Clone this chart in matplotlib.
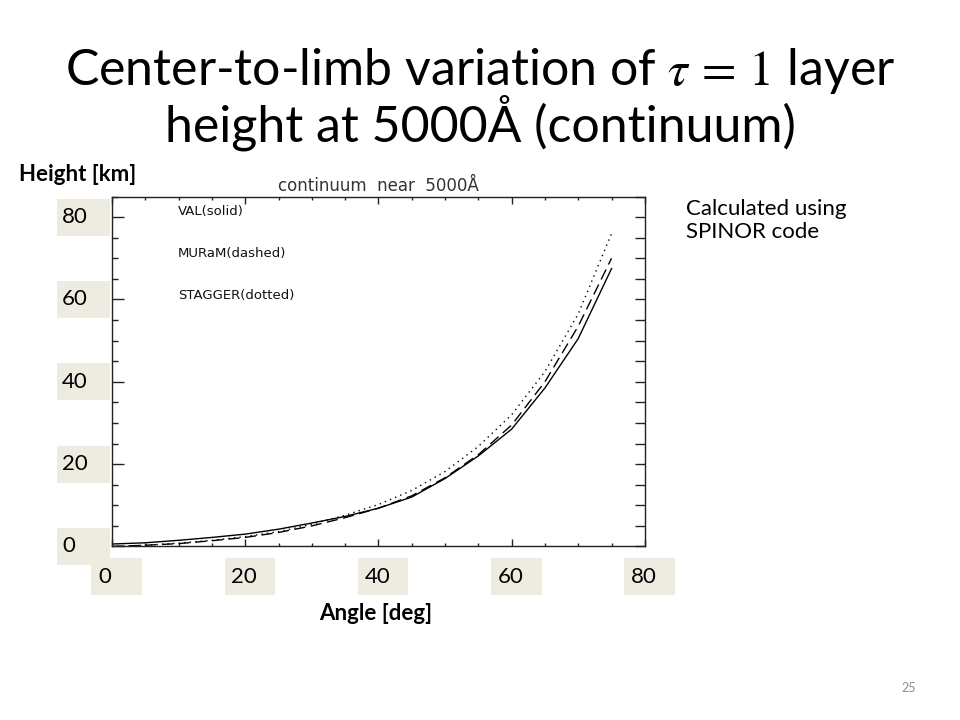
import matplotlib
matplotlib.use("Agg")
import matplotlib.pyplot as plt
import matplotlib.transforms as mtransforms
from matplotlib.patches import Rectangle
from matplotlib.ticker import MultipleLocator

# tau=1 layer height [km] vs viewing angle [deg]
angle = [0, 5, 10, 15, 20, 25, 30, 35, 40, 45, 50, 55, 60, 65, 70, 75]
val_height = [0.6, 0.9, 1.5, 2.2, 3.0, 4.2, 5.7, 7.3, 9.3, 12.0, 16.5, 22.0, 28.5, 38.5, 50.5, 67.5]
muram_height = [0.0, 0.3, 0.7, 1.4, 2.2, 3.4, 5.0, 7.0, 9.3, 12.3, 16.7, 22.3, 29.5, 40.0, 53.5, 70.0]
stagger_height = [0.0, 0.3, 0.8, 1.5, 2.4, 3.6, 5.4, 7.6, 10.2, 13.6, 18.2, 24.3, 32.0, 42.5, 56.5, 76.0]

x_labels = [0, 20, 40, 60, 80]
y_labels = [0, 20, 40, 60, 80]
model_names = ["VAL(solid)", "MURaM(dashed)", "STAGGER(dotted)"]

plt.rcParams['mathtext.fontset'] = 'stix'
slide_font = ['Lato', 'DejaVu Sans']
box_color = '#EEECE1'
frame_color = '#222222'

fig = plt.figure(figsize=(9.6, 7.2), dpi=100)
ax = fig.add_axes([0.1167, 0.241, 0.555, 0.486])

# the three model curves (IDL style, thin black)
ax.plot(angle, val_height, color='black', lw=1.0, ls='-')
ax.plot(angle, muram_height, color='black', lw=1.0, ls=(0, (8, 4)))
ax.plot(angle, stagger_height, color='black', lw=1.0, ls=(0, (1, 3)))

ax.set_xlim(0, 80)
ax.set_ylim(0, 85)
ax.xaxis.set_major_locator(MultipleLocator(20))
ax.xaxis.set_minor_locator(MultipleLocator(5))
ax.yaxis.set_major_locator(MultipleLocator(20))
ax.yaxis.set_minor_locator(MultipleLocator(5))
ax.tick_params(which='both', direction='in', top=True, right=False,
               labelbottom=False, labelleft=False, color=frame_color, width=1.0)
ax.tick_params(axis='x', which='major', length=5)
ax.tick_params(axis='x', which='minor', length=2.3)
ax.tick_params(axis='y', which='major', length=8.5)
ax.tick_params(axis='y', which='minor', length=4.3)
for sp in ax.spines.values():
    sp.set_linewidth(1.0)
    sp.set_color(frame_color)

# right-hand ticks are all the same length in the original
ax_r = ax.twinx()
ax_r.set_ylim(ax.get_ylim())
ax_r.yaxis.set_major_locator(MultipleLocator(20))
ax_r.yaxis.set_minor_locator(MultipleLocator(5))
ax_r.tick_params(which='both', direction='in', length=7.5, width=1.0,
                 color=frame_color, labelright=False)
for sp in ax_r.spines.values():
    sp.set_visible(False)

ax.set_title("continuum  near  5000Å", fontsize=12, color='#333333', pad=4)

# labels inside the plot
for i, name in enumerate(model_names):
    ax.text(0.124, 0.956 - 0.12 * i, name, transform=ax.transAxes,
            va='center', ha='left', fontsize=9.5, color='#111111')

# beige boxes pasted over the original tick labels
trans_y = mtransforms.blended_transform_factory(ax.transAxes, ax.transData)
for v in y_labels:
    ax.add_patch(Rectangle((-0.103, v - 4.5), 0.099, 9, transform=trans_y,
                           facecolor=box_color, edgecolor='none', clip_on=False))
    ax.text(-0.094, v, str(v), transform=trans_y, ha='left', va='center',
            fontsize=16, family=slide_font, clip_on=False)

trans_x = mtransforms.blended_transform_factory(ax.transData, ax.transAxes)
for v in x_labels:
    ax.add_patch(Rectangle((v - 3.1, -0.139), 7.6, 0.106, transform=trans_x,
                           facecolor=box_color, edgecolor='none', clip_on=False))
    ax.text(v - 2.1, -0.088, str(v), transform=trans_x, ha='left', va='center',
            fontsize=16, family=slide_font, clip_on=False)

# slide text
fig.text(0.5, 0.902, r"Center-to-limb variation of $\tau\,=\,1$ layer",
         ha='center', va='center', fontsize=36, family=slide_font)
fig.text(0.5, 0.829, "height at 5000Å (continuum)",
         ha='center', va='center', fontsize=36, family=slide_font)
fig.text(0.0807, 0.758, "Height [km]", ha='center', va='center',
         fontsize=16, fontweight='bold', family=slide_font)
fig.text(0.391, 0.148, "Angle [deg]", ha='center', va='center',
         fontsize=16, fontweight='bold', family=slide_font)
fig.text(0.7146, 0.694, "Calculated using\nSPINOR code", ha='left', va='center',
         fontsize=16, family=slide_font, linespacing=1.2)
fig.text(0.946, 0.044, "25", ha='center', va='center', fontsize=9,
         color='#8c8c8c', family=slide_font)

fig.savefig("out.png", dpi=100, facecolor='white')
